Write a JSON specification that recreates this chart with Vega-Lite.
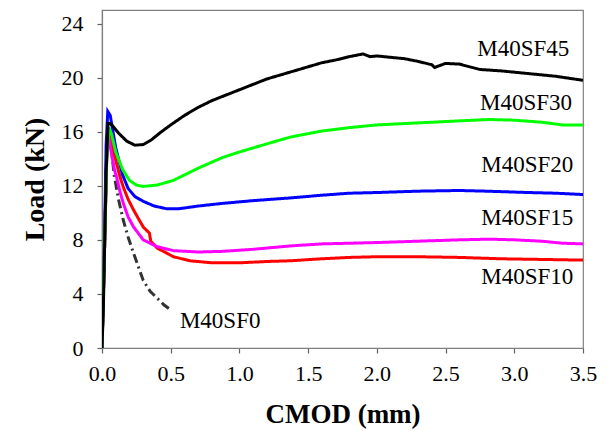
{
  "$schema": "https://vega.github.io/schema/vega-lite/v6.json",
  "width": 481,
  "height": 338,
  "autosize": "none",
  "padding": {"left": 102, "top": 10, "right": 31, "bottom": 83},
  "background": "white",
  "config": {
    "view": {"stroke": "#808080", "strokeWidth": 1.2},
    "font": "Liberation Serif",
    "axis": {
      "labelFont": "Liberation Serif",
      "labelFontSize": 22,
      "labelColor": "#000000",
      "labelFlush": false,
      "labelOverlap": false,
      "titleFont": "Liberation Serif",
      "titleFontWeight": "bold",
      "titleColor": "#000000",
      "domainColor": "#808080",
      "domainWidth": 1.2,
      "tickColor": "#606060",
      "tickSize": 5,
      "tickWidth": 1.2,
      "grid": false
    }
  },
  "datasets": {
    "curves": [
      {"s": "M40SF0", "x": 0, "y": 0}, {"s": "M40SF0", "x": 0.02, "y": 8}, {"s": "M40SF0", "x": 0.035, "y": 14.5}, {"s": "M40SF0", "x": 0.05, "y": 16.0}, {"s": "M40SF0", "x": 0.07, "y": 14.5}, {"s": "M40SF0", "x": 0.09, "y": 12.7}, {"s": "M40SF0", "x": 0.12, "y": 11.0}, {"s": "M40SF0", "x": 0.155, "y": 9.45}, {"s": "M40SF0", "x": 0.19, "y": 8.2}, {"s": "M40SF0", "x": 0.23, "y": 7.0}, {"s": "M40SF0", "x": 0.3, "y": 5.0}, {"s": "M40SF0", "x": 0.35, "y": 4.2}, {"s": "M40SF0", "x": 0.4, "y": 3.7}, {"s": "M40SF0", "x": 0.45, "y": 3.2}, {"s": "M40SF0", "x": 0.49, "y": 2.9},

      {"s": "M40SF10", "x": 0, "y": 0}, {"s": "M40SF10", "x": 0.02, "y": 8}, {"s": "M40SF10", "x": 0.035, "y": 14.5}, {"s": "M40SF10", "x": 0.05, "y": 16.0}, {"s": "M40SF10", "x": 0.07, "y": 15.2}, {"s": "M40SF10", "x": 0.09, "y": 14.3}, {"s": "M40SF10", "x": 0.107, "y": 13.6}, {"s": "M40SF10", "x": 0.13, "y": 12.7}, {"s": "M40SF10", "x": 0.155, "y": 11.9}, {"s": "M40SF10", "x": 0.19, "y": 11.0}, {"s": "M40SF10", "x": 0.23, "y": 10.2}, {"s": "M40SF10", "x": 0.3, "y": 8.95}, {"s": "M40SF10", "x": 0.345, "y": 8.5}, {"s": "M40SF10", "x": 0.355, "y": 7.9}, {"s": "M40SF10", "x": 0.4, "y": 7.4}, {"s": "M40SF10", "x": 0.52, "y": 6.75}, {"s": "M40SF10", "x": 0.64, "y": 6.45}, {"s": "M40SF10", "x": 0.8, "y": 6.3}, {"s": "M40SF10", "x": 1.0, "y": 6.3}, {"s": "M40SF10", "x": 1.2, "y": 6.4}, {"s": "M40SF10", "x": 1.37, "y": 6.45}, {"s": "M40SF10", "x": 1.6, "y": 6.6}, {"s": "M40SF10", "x": 1.8, "y": 6.7}, {"s": "M40SF10", "x": 2.0, "y": 6.75}, {"s": "M40SF10", "x": 2.3, "y": 6.75}, {"s": "M40SF10", "x": 2.6, "y": 6.7}, {"s": "M40SF10", "x": 2.9, "y": 6.6}, {"s": "M40SF10", "x": 3.2, "y": 6.55}, {"s": "M40SF10", "x": 3.5, "y": 6.5},

      {"s": "M40SF15", "x": 0, "y": 0}, {"s": "M40SF15", "x": 0.02, "y": 8}, {"s": "M40SF15", "x": 0.035, "y": 14.5}, {"s": "M40SF15", "x": 0.05, "y": 15.6}, {"s": "M40SF15", "x": 0.07, "y": 14.3}, {"s": "M40SF15", "x": 0.09, "y": 13.2}, {"s": "M40SF15", "x": 0.107, "y": 12.6}, {"s": "M40SF15", "x": 0.13, "y": 11.6}, {"s": "M40SF15", "x": 0.155, "y": 10.7}, {"s": "M40SF15", "x": 0.19, "y": 9.7}, {"s": "M40SF15", "x": 0.23, "y": 8.95}, {"s": "M40SF15", "x": 0.3, "y": 8.0}, {"s": "M40SF15", "x": 0.4, "y": 7.5}, {"s": "M40SF15", "x": 0.52, "y": 7.2}, {"s": "M40SF15", "x": 0.7, "y": 7.1}, {"s": "M40SF15", "x": 0.88, "y": 7.15}, {"s": "M40SF15", "x": 1.1, "y": 7.3}, {"s": "M40SF15", "x": 1.37, "y": 7.55}, {"s": "M40SF15", "x": 1.6, "y": 7.7}, {"s": "M40SF15", "x": 1.8, "y": 7.75}, {"s": "M40SF15", "x": 2.0, "y": 7.8}, {"s": "M40SF15", "x": 2.3, "y": 7.9}, {"s": "M40SF15", "x": 2.6, "y": 8.0}, {"s": "M40SF15", "x": 2.82, "y": 8.05}, {"s": "M40SF15", "x": 3.0, "y": 8.0}, {"s": "M40SF15", "x": 3.2, "y": 7.9}, {"s": "M40SF15", "x": 3.35, "y": 7.75}, {"s": "M40SF15", "x": 3.5, "y": 7.7},

      {"s": "M40SF20", "x": 0, "y": 0}, {"s": "M40SF20", "x": 0.015, "y": 6}, {"s": "M40SF20", "x": 0.03, "y": 15}, {"s": "M40SF20", "x": 0.042, "y": 17.5}, {"s": "M40SF20", "x": 0.06, "y": 17.2}, {"s": "M40SF20", "x": 0.08, "y": 16.0}, {"s": "M40SF20", "x": 0.1, "y": 14.8}, {"s": "M40SF20", "x": 0.12, "y": 14.0}, {"s": "M40SF20", "x": 0.15, "y": 12.8}, {"s": "M40SF20", "x": 0.19, "y": 11.8}, {"s": "M40SF20", "x": 0.24, "y": 11.2}, {"s": "M40SF20", "x": 0.3, "y": 10.85}, {"s": "M40SF20", "x": 0.38, "y": 10.5}, {"s": "M40SF20", "x": 0.47, "y": 10.3}, {"s": "M40SF20", "x": 0.56, "y": 10.3}, {"s": "M40SF20", "x": 0.7, "y": 10.5}, {"s": "M40SF20", "x": 0.88, "y": 10.7}, {"s": "M40SF20", "x": 1.1, "y": 10.9}, {"s": "M40SF20", "x": 1.37, "y": 11.1}, {"s": "M40SF20", "x": 1.6, "y": 11.3}, {"s": "M40SF20", "x": 1.8, "y": 11.45}, {"s": "M40SF20", "x": 2.0, "y": 11.5}, {"s": "M40SF20", "x": 2.3, "y": 11.6}, {"s": "M40SF20", "x": 2.6, "y": 11.65}, {"s": "M40SF20", "x": 2.8, "y": 11.6}, {"s": "M40SF20", "x": 3.1, "y": 11.5}, {"s": "M40SF20", "x": 3.3, "y": 11.45}, {"s": "M40SF20", "x": 3.5, "y": 11.35},

      {"s": "M40SF30", "x": 0, "y": 0}, {"s": "M40SF30", "x": 0.02, "y": 8}, {"s": "M40SF30", "x": 0.035, "y": 14}, {"s": "M40SF30", "x": 0.05, "y": 16.3}, {"s": "M40SF30", "x": 0.07, "y": 15.8}, {"s": "M40SF30", "x": 0.1, "y": 14.5}, {"s": "M40SF30", "x": 0.15, "y": 13.2}, {"s": "M40SF30", "x": 0.2, "y": 12.4}, {"s": "M40SF30", "x": 0.25, "y": 12.05}, {"s": "M40SF30", "x": 0.3, "y": 11.95}, {"s": "M40SF30", "x": 0.4, "y": 12.05}, {"s": "M40SF30", "x": 0.52, "y": 12.4}, {"s": "M40SF30", "x": 0.6, "y": 12.8}, {"s": "M40SF30", "x": 0.7, "y": 13.3}, {"s": "M40SF30", "x": 0.8, "y": 13.75}, {"s": "M40SF30", "x": 0.88, "y": 14.1}, {"s": "M40SF30", "x": 1.0, "y": 14.5}, {"s": "M40SF30", "x": 1.2, "y": 15.1}, {"s": "M40SF30", "x": 1.37, "y": 15.6}, {"s": "M40SF30", "x": 1.6, "y": 16.05}, {"s": "M40SF30", "x": 1.8, "y": 16.3}, {"s": "M40SF30", "x": 2.0, "y": 16.5}, {"s": "M40SF30", "x": 2.2, "y": 16.6}, {"s": "M40SF30", "x": 2.4, "y": 16.7}, {"s": "M40SF30", "x": 2.6, "y": 16.8}, {"s": "M40SF30", "x": 2.82, "y": 16.9}, {"s": "M40SF30", "x": 3.0, "y": 16.85}, {"s": "M40SF30", "x": 3.2, "y": 16.7}, {"s": "M40SF30", "x": 3.35, "y": 16.5}, {"s": "M40SF30", "x": 3.5, "y": 16.5},

      {"s": "M40SF45", "x": 0, "y": 0}, {"s": "M40SF45", "x": 0.01, "y": 3}, {"s": "M40SF45", "x": 0.02, "y": 8}, {"s": "M40SF45", "x": 0.03, "y": 13}, {"s": "M40SF45", "x": 0.044, "y": 16.6}, {"s": "M40SF45", "x": 0.06, "y": 16.6}, {"s": "M40SF45", "x": 0.08, "y": 16.4}, {"s": "M40SF45", "x": 0.12, "y": 15.9}, {"s": "M40SF45", "x": 0.18, "y": 15.3}, {"s": "M40SF45", "x": 0.24, "y": 15.0}, {"s": "M40SF45", "x": 0.3, "y": 15.05}, {"s": "M40SF45", "x": 0.36, "y": 15.4}, {"s": "M40SF45", "x": 0.42, "y": 15.9}, {"s": "M40SF45", "x": 0.5, "y": 16.5}, {"s": "M40SF45", "x": 0.6, "y": 17.2}, {"s": "M40SF45", "x": 0.7, "y": 17.8}, {"s": "M40SF45", "x": 0.8, "y": 18.3}, {"s": "M40SF45", "x": 0.9, "y": 18.7}, {"s": "M40SF45", "x": 1.0, "y": 19.1}, {"s": "M40SF45", "x": 1.1, "y": 19.5}, {"s": "M40SF45", "x": 1.2, "y": 19.9}, {"s": "M40SF45", "x": 1.3, "y": 20.2}, {"s": "M40SF45", "x": 1.4, "y": 20.5}, {"s": "M40SF45", "x": 1.5, "y": 20.8}, {"s": "M40SF45", "x": 1.6, "y": 21.1}, {"s": "M40SF45", "x": 1.7, "y": 21.3}, {"s": "M40SF45", "x": 1.8, "y": 21.55}, {"s": "M40SF45", "x": 1.9, "y": 21.75}, {"s": "M40SF45", "x": 1.95, "y": 21.55}, {"s": "M40SF45", "x": 2.0, "y": 21.6}, {"s": "M40SF45", "x": 2.1, "y": 21.5}, {"s": "M40SF45", "x": 2.2, "y": 21.4}, {"s": "M40SF45", "x": 2.3, "y": 21.2}, {"s": "M40SF45", "x": 2.4, "y": 20.95}, {"s": "M40SF45", "x": 2.42, "y": 20.75}, {"s": "M40SF45", "x": 2.5, "y": 21.05}, {"s": "M40SF45", "x": 2.6, "y": 21.0}, {"s": "M40SF45", "x": 2.75, "y": 20.6}, {"s": "M40SF45", "x": 2.9, "y": 20.5}, {"s": "M40SF45", "x": 3.1, "y": 20.3}, {"s": "M40SF45", "x": 3.3, "y": 20.1}, {"s": "M40SF45", "x": 3.5, "y": 19.8}
    ],
    "labels": [
      {"label": "M40SF45", "x": 3.40, "y": 21.62},
      {"label": "M40SF30", "x": 3.42, "y": 17.64},
      {"label": "M40SF20", "x": 3.43, "y": 12.99},
      {"label": "M40SF15", "x": 3.43, "y": 9.08},
      {"label": "M40SF10", "x": 3.43, "y": 4.72}
    ],
    "label0": [
      {"label": "M40SF0", "x": 0.567, "y": 1.48}
    ]
  },
  "layer": [
    {
      "data": {"name": "curves"},
      "mark": {"type": "line", "strokeWidth": 3, "clip": true},
      "encoding": {
        "x": {"field": "x", "type": "quantitative", "scale": {"domain": [0, 3.5], "nice": false}, "axis": {"values": [0, 0.5, 1, 1.5, 2, 2.5, 3, 3.5], "format": ".1f", "title": "CMOD (mm)", "titleFontSize": 27, "labelPadding": 10, "titlePadding": 17}},
        "y": {"field": "y", "type": "quantitative", "scale": {"domain": [0, 25], "nice": false}, "axis": {"values": [0, 4, 8, 12, 16, 20, 24], "title": "Load (kN)", "titleFontSize": 28, "labelPadding": 14, "titlePadding": 12}},
        "color": {"field": "s", "type": "nominal", "legend": null, "scale": {"domain": ["M40SF0", "M40SF10", "M40SF15", "M40SF20", "M40SF30", "M40SF45"], "range": ["#333333", "#ff0000", "#ff00ff", "#0000ff", "#00ff00", "#000000"]}},
        "strokeDash": {"field": "s", "type": "nominal", "legend": null, "scale": {"domain": ["M40SF0", "M40SF10", "M40SF15", "M40SF20", "M40SF30", "M40SF45"], "range": [[9, 4, 2, 4], [1, 0], [1, 0], [1, 0], [1, 0], [1, 0]]}},
        "order": {"field": "x", "type": "quantitative"}
      }
    },
    {
      "data": {"name": "labels"},
      "mark": {"type": "text", "align": "right", "baseline": "alphabetic", "font": "Liberation Serif", "fontSize": 23, "color": "#000000"},
      "encoding": {
        "x": {"field": "x", "type": "quantitative"},
        "y": {"field": "y", "type": "quantitative"},
        "text": {"field": "label"}
      }
    },
    {
      "data": {"name": "label0"},
      "mark": {"type": "text", "align": "left", "baseline": "alphabetic", "font": "Liberation Serif", "fontSize": 23, "color": "#000000"},
      "encoding": {
        "x": {"field": "x", "type": "quantitative"},
        "y": {"field": "y", "type": "quantitative"},
        "text": {"field": "label"}
      }
    }
  ]
}
